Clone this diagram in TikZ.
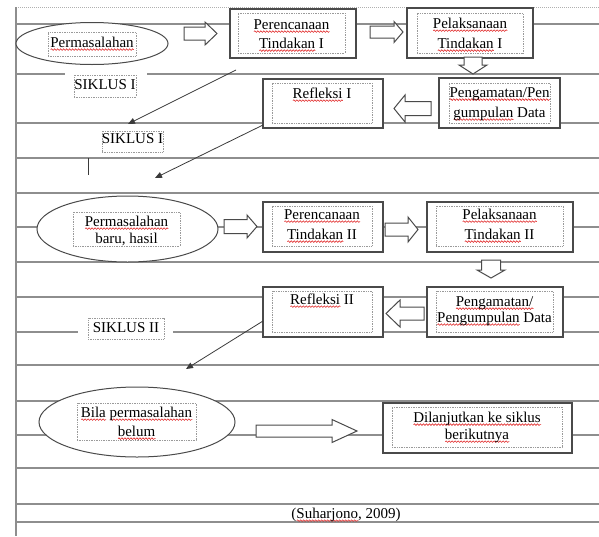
\documentclass[tikz,border=0pt]{standalone}
\usepackage{fontspec}
\setmainfont{Liberation Serif}
\usetikzlibrary{shapes.geometric,arrows.meta,decorations.pathmorphing}
\definecolor{tline}{HTML}{8E8E8E}
\definecolor{boxc}{HTML}{4A4A4A}
\definecolor{dotc}{HTML}{9A9A9A}
\definecolor{conc}{HTML}{3A3A3A}
\definecolor{spellred}{HTML}{E02020}
\tikzset{
  tl/.style={draw=tline,line width=1.3pt},
  topl/.style={draw=tline!70,line width=1pt,densely dotted},
  obox/.style={draw=boxc,line width=1.3pt,fill=white,rectangle,inner sep=0pt,outer sep=0pt},
  ibox/.style={draw=dotc,line width=0.7pt,densely dotted,rectangle,inner sep=0pt,outer sep=0pt},
  lbox/.style={draw=dotc,line width=0.7pt,densely dotted,fill=white,rectangle,inner sep=0pt,outer sep=0pt},
  ell/.style={draw=boxc,line width=1pt,fill=white,ellipse,inner sep=0pt,outer sep=0pt},
  blk/.style={draw=boxc,line width=1pt,fill=white,line join=miter},
  txt/.style={inner sep=0pt,anchor=base,font=\fontsize{15}{19}\selectfont},
  con/.style={draw=conc,line width=0.8pt,-{Triangle[length=7pt,width=6pt]}},
  sqw/.style={draw=spellred,line width=0.55pt,decorate,decoration={snake,amplitude=0.8pt,segment length=3pt}},
}
\newlength\sqlen
\newcommand\sq[1]{\settowidth{\sqlen}{#1}\rlap{\tikz[baseline=0pt]{\draw[sqw] (0pt,-2.6pt) -- (\sqlen,-2.6pt);}}#1}
% style, name, x1, y1, x2, y2
\newcommand\mkbox[6]{\node[#1,minimum width={(#5-#3)*1pt},minimum height={(#6-#4)*1pt}] (#2) at ({(#3+#5)/2},{(#4+#6)/2}) {};}
% horizontal block arrow: tail x, tip x, yc, shaft half, head half, head start x
\newcommand\blkh[6]{\draw[blk] (#1,{#3-#4}) -- (#6,{#3-#4}) -- (#6,{#3-#5}) -- (#2,#3) -- (#6,{#3+#5}) -- (#6,{#3+#4}) -- (#1,{#3+#4}) -- cycle;}
% vertical block arrow: xc, tail y, tip y, shaft half, head half, head start y
\newcommand\blkv[6]{\draw[blk] ({#1-#4},#2) -- ({#1-#4},#6) -- ({#1-#5},#6) -- (#1,#3) -- ({#1+#5},#6) -- ({#1+#4},#6) -- ({#1+#4},#2) -- cycle;}
\begin{document}
\begin{tikzpicture}[x=1pt,y=-1pt]
\useasboundingbox (0,0) rectangle (599,536);
% table lines
\draw[topl] (16,7) -- (599,7);
\foreach \yy in {24,123,158,193,227,262,297,365,401,435,468,504,522}
  \draw[tl] (16,\yy) -- (599,\yy);
\draw[tl] (16,74) -- (65,74) (147,74) -- (599,74);
\draw[tl] (16,332) -- (78,332) (173,332) -- (599,332);
\draw[tl,line width=1.1pt] (16,7) -- (16,536);
\draw[tl,draw=conc,line width=0.8pt] (88,158) -- (88,175);

% ---- cycle I ----
\node[ell,minimum width=152pt,minimum height=42pt] (E1) at (92,43.5) {};
\mkbox{ibox}{E1i}{48}{32}{136}{56}
\node[txt] (tE1) at (92,47) {\sq{Permasalahan}};

\blkh{184}{217}{33.5}{6.5}{11.5}{205}

\mkbox{obox}{B1}{230}{9}{356}{58}
\mkbox{ibox}{B1i}{238}{13}{345}{53}
\node[txt] (tB1a) at (291.5,29) {\sq{Perencanaan}};
\node[txt] (tB1b) at (291.5,48) {\sq{Tindakan} I};

\blkh{370}{403}{32}{6}{10.5}{394}

\mkbox{obox}{B2}{407}{8}{533}{58}
\mkbox{ibox}{B2i}{417}{13}{523}{53}
\node[txt] (tB2a) at (470,28) {\sq{Pelaksanaan}};
\node[txt] (tB2b) at (470,48) {\sq{Tindakan} I};

\blkv{473}{57}{74}{9}{14}{65}

\mkbox{obox}{B3}{439}{78}{560}{128}
\mkbox{ibox}{B3i}{449}{83}{550}{123}
\node[txt] (tB3a) at (499.5,97) {\sq{Pengamatan/Pen}};
\node[txt] (tB3b) at (499.5,117) {\sq{gumpulan} Data};

\blkh{431}{394}{108.5}{7}{13.5}{405}

\mkbox{obox}{B4}{263}{79}{383}{128}
\mkbox{ibox}{B4i}{272}{83}{372}{123}
\node[txt] (tB4) at (322,98) {\sq{Refleksi} I};

\mkbox{lbox}{S1}{74}{75}{136}{97}
\node[txt] (tS1) at (105,89) {SIKLUS I};
\mkbox{lbox}{S2}{102}{131}{163}{152}
\node[txt] (tS2) at (132.5,143) {SIKLUS I};

% ---- cycle II ----
\node[ell,minimum width=181pt,minimum height=66pt] (E2) at (127.5,229) {};
\mkbox{ibox}{E2i}{73}{212}{180}{246}
\node[txt] (tE2a) at (126.5,226) {\sq{Permasalahan}};
\node[txt] (tE2b) at (126.5,243) {baru, hasil};

\blkh{224}{257}{226.5}{7}{11.5}{247}

\mkbox{obox}{B5}{263}{202}{383}{252}
\mkbox{ibox}{B5i}{272}{206}{372}{246}
\node[txt] (tB5a) at (322,219) {\sq{Perencanaan}};
\node[txt] (tB5b) at (322,239) {\sq{Tindakan} II};

\blkh{385}{418}{229.5}{6.5}{12.5}{408}

\mkbox{obox}{B6}{427}{202}{573}{252}
\mkbox{ibox}{B6i}{436}{206}{563}{246}
\node[txt] (tB6a) at (499.5,219) {\sq{Pelaksanaan}};
\node[txt] (tB6b) at (499.5,239) {\sq{Tindakan} II};

\blkv{491}{260}{278}{9.5}{14}{270}

\mkbox{obox}{B7}{427}{287}{563}{337}
\mkbox{ibox}{B7i}{436}{291}{553}{332}
\node[txt] (tB7a) at (494.5,306) {\sq{Pengamatan/}};
\node[txt] (tB7b) at (494.5,322) {\sq{Pengumpulan} Data};

\blkh{424}{386}{313.5}{6.5}{13.5}{400}

\mkbox{obox}{B8}{263}{287}{383}{337}
\mkbox{ibox}{B8i}{272}{291}{372}{332}
\node[txt] (tB8) at (322,304) {\sq{Refleksi} II};

\mkbox{lbox}{S3}{88}{318}{164}{339}
\node[txt] (tS3) at (126,332) {SIKLUS II};

% ---- continuation ----
\node[ell,minimum width=196pt,minimum height=70pt] (E3) at (137,422) {};
\mkbox{ibox}{E3i}{77}{403}{196}{440}
\node[txt] (tE3a) at (136.5,417) {\sq{Bila} \sq{permasalahan}};
\node[txt] (tE3b) at (136.5,436) {\sq{belum}};

\blkh{256}{357}{431}{6}{11.5}{332}

\mkbox{obox}{B9}{383}{403}{572}{453}
\mkbox{ibox}{B9i}{392}{407}{562}{447}
\node[txt] (tB9a) at (477,422) {\sq{Dilanjutkan ke siklus}};
\node[txt] (tB9b) at (477,439) {\sq{berikutnya}};

\node[txt] (tsrc) at (346,518) {(\sq{Suharjono}, 2009)};

% ---- connectors ----
\coordinate (c1s) at (236,70);
\coordinate (c1e) at (128,124);
\coordinate (c2s) at (263,125);
\coordinate (c2e) at (155,178);
\coordinate (c3s) at (263,321);
\coordinate (c3e) at (186,369);
\draw[con] (c1s) -- (c1e);
\draw[con] (c2s) -- (c2e);
\draw[con] (c3s) -- (c3e);
\end{tikzpicture}
\end{document}
